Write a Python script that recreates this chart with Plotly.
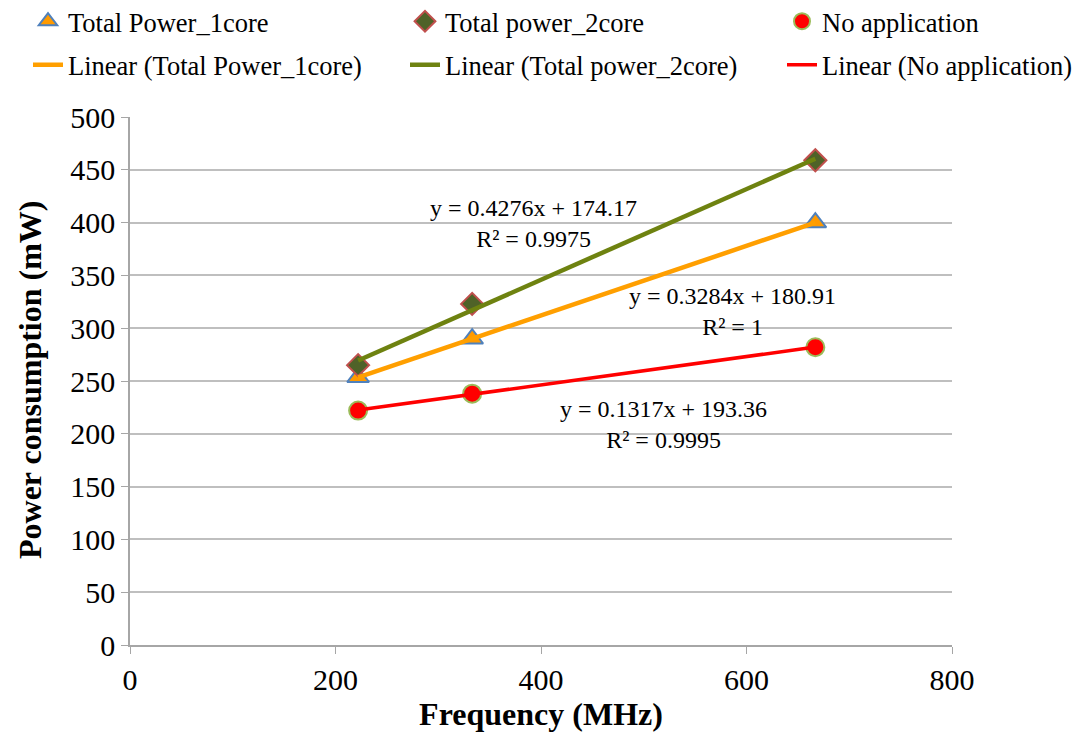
import numpy as np
import plotly.graph_objects as go

# frequency (MHz)
freq = [222, 333, 667]

# power consumption (mW)
power_1core = [253.5, 290, 400]
power_2core = [265, 323, 459]
no_app = [222, 238, 282]

names = ["Total Power_1core", "Total power_2core", "No application"]
eq_text = [
    "y = 0.3284x + 180.91<br>R² = 1",
    "y = 0.4276x + 174.17<br>R² = 0.9975",
    "y = 0.1317x + 193.36<br>R² = 0.9995",
]
eq_pos = [(586, 316), (393, 399), (519, 209)]

serif = "Liberation Serif"

# the page adds an 8px body margin, so shift everything by that
OFF = 8
W, H = 1083, 744

markers = [
    dict(symbol="triangle-up", size=19, color="#FF9A00", line=dict(color="#4F81BD", width=2)),
    dict(symbol="diamond", size=17, color="#4F6228", line=dict(color="#C0504D", width=2)),
    dict(symbol="circle", size=18, color="#FF0000", line=dict(color="#9BBB59", width=2)),
]
line_colors = ["#FF9F00", "#6E8210", "#FF0000"]
line_widths = [4.5, 4.5, 3.5]
legend_ids = ["legend", "legend2", "legend3"]

fig = go.Figure()

for i, series in enumerate([power_1core, power_2core, no_app]):
    fig.add_trace(go.Scatter(
        x=freq, y=series, mode="markers", name=names[i],
        legend=legend_ids[i], legendgroup=f"pts{i}", marker=markers[i],
    ))

# linear trendlines (least squares over the data range)
for i, series in enumerate([power_1core, power_2core, no_app]):
    slope, icpt = np.polyfit(freq, series, 1)
    xs = np.array([min(freq), max(freq)])
    fig.add_trace(go.Scatter(
        x=xs, y=slope * xs + icpt, mode="lines", name=f"Linear ({names[i]})",
        legend=legend_ids[i], legendgroup=f"fit{i}",
        line=dict(color=line_colors[i], width=line_widths[i]),
    ))

for txt, (ax, ay) in zip(eq_text, eq_pos):
    fig.add_annotation(x=ax, y=ay, xref="x", yref="y", text=txt, showarrow=False,
                       align="center", font=dict(family=serif, size=24, color="black"))

# y axis title as rotated annotation
fig.add_annotation(
    x=(30 - 130) / 822, y=(645 - 380) / 528, xref="paper", yref="paper",
    text="<b>Power consumption (mW)</b>", textangle=-90, showarrow=False,
    xanchor="center", yanchor="middle", font=dict(family=serif, size=32, color="black"),
)


def make_legend(text_x):
    return dict(
        orientation="v", xref="container", yref="container",
        x=(text_x - 48) / W, y=1 - (43 - OFF) / H,
        xanchor="left", yanchor="middle", tracegroupgap=6,
        font=dict(family=serif, size=26.5, color="black"), bgcolor="rgba(0,0,0,0)",
        itemwidth=30,
    )


fig.update_layout(
    width=W, height=H,
    margin=dict(l=130 - OFF, r=W - 952 + OFF, t=117 - OFF, b=H - 645 + OFF, autoexpand=False),
    paper_bgcolor="white", plot_bgcolor="white",
    font=dict(family=serif, color="black"),
    legend=make_legend(68),
    legend2=make_legend(445),
    legend3=make_legend(822),
    xaxis=dict(
        range=[0, 800], dtick=200, showgrid=False, zeroline=False,
        showline=True, linecolor="#A6A6A6", linewidth=1.5,
        ticks="outside", ticklen=7, tickcolor="#A6A6A6",
        tickfont=dict(family=serif, size=30, color="black"),
        title=dict(text="<b>Frequency (MHz)</b>", font=dict(family=serif, size=32, color="black"), standoff=6),
    ),
    yaxis=dict(
        range=[0, 500], dtick=50, showgrid=True, gridcolor="#BFBFBF", gridwidth=1.5,
        zeroline=False, showline=True, linecolor="#A6A6A6", linewidth=1.5,
        ticks="outside", ticklen=7, tickcolor="#A6A6A6",
        tickfont=dict(family=serif, size=30, color="black"),
    ),
)

fig.write_html("out.html")
